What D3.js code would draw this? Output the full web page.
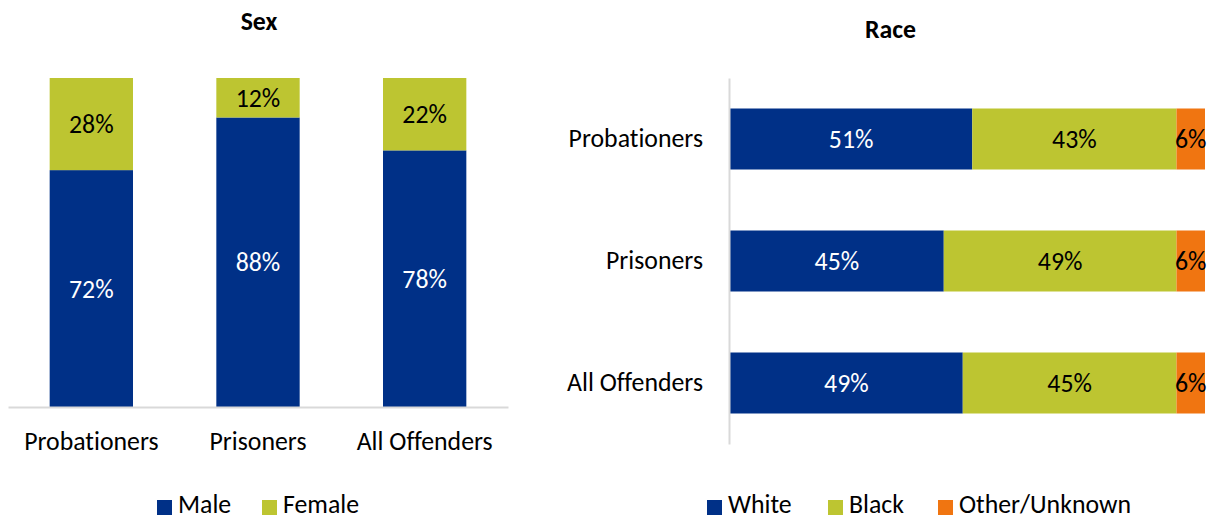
<!DOCTYPE html>
<html><head><meta charset="utf-8">
<script src="https://cdn.jsdelivr.net/npm/d3@7"></script>
<style>body{margin:0;background:#fff}svg{display:block}text{font-family:Carlito,Lato,"Open Sans",sans-serif;font-variant-ligatures:none}</style>
</head><body><svg id="c" width="1213" height="519"></svg>
<script>
const groups = ["Probationers","Prisoners","All Offenders"];
const sexSeries = ["Male","Female"];
const male = [72,88,78];
const female = [28,12,22];
const raceSeries = ["White","Black","Other/Unknown"];
const white = [51,45,49];
const black = [43,49,45];
const other = [6,6,6];

const FS = 25.8;
const colors = {Male:"#003087",Female:"#BDC531",White:"#003087",Black:"#BDC531","Other/Unknown":"#F07511"};
const labelColor = {Male:"#fff",White:"#fff",Female:"#000",Black:"#000","Other/Unknown":"#000"};
const svg = d3.select("#c");

// ---------- Sex chart ----------
const sexRows = groups.map((g,i)=>({group:g,Male:male[i],Female:female[i]}));
const sexStack = d3.stack().keys(sexSeries)(sexRows);
const x1 = d3.scaleBand().domain(groups).range([8,508]).paddingInner(0.5).paddingOuter(0.25);
const y1 = d3.scaleLinear().domain([0,100]).range([407,78]);
svg.append("text").attr("x",259).attr("y",29.5).attr("text-anchor","middle")
  .attr("font-weight","bold").attr("font-size",FS).text("Sex");
const g1 = svg.append("g");
sexStack.forEach(s=>{
  g1.selectAll(null).data(s).enter().append("rect")
    .attr("x",d=>x1(d.data.group)).attr("width",x1.bandwidth())
    .attr("y",d=>y1(d[1])).attr("height",d=>y1(d[0])-y1(d[1]))
    .attr("fill",colors[s.key]);
  g1.selectAll(null).data(s).enter().append("text")
    .attr("x",d=>x1(d.data.group)+x1.bandwidth()/2).attr("y",d=>(y1(d[0])+y1(d[1]))/2)
    .attr("dy","0.35em").attr("text-anchor","middle").attr("font-size",FS)
    .attr("fill",labelColor[s.key]).text(d=>(d[1]-d[0])+"%");
});
const ax1 = svg.append("g").attr("transform","translate(0,407)")
  .call(d3.axisBottom(x1).tickSize(0).tickPadding(25));
ax1.select(".domain").attr("stroke","#d9d9d9").attr("stroke-width",2);
ax1.selectAll("text").attr("font-size",FS).attr("fill","#000").style("font-family","Carlito,Lato,sans-serif");

// ---------- Race chart ----------
const raceRows = groups.map((g,i)=>({group:g,White:white[i],Black:black[i],"Other/Unknown":other[i]}));
const raceStack = d3.stack().keys(raceSeries)(raceRows);
const y2 = d3.scaleBand().domain(groups).range([78,444]).paddingInner(0.5).paddingOuter(0.25);
const x2 = d3.scaleLinear().domain([0,100]).range([730,1205]);
svg.append("text").attr("x",890.5).attr("y",37.5).attr("text-anchor","middle")
  .attr("font-weight","bold").attr("font-size",FS).text("Race");
const g2 = svg.append("g");
raceStack.forEach(s=>{
  g2.selectAll(null).data(s).enter().append("rect")
    .attr("y",d=>y2(d.data.group)).attr("height",y2.bandwidth())
    .attr("x",d=>x2(d[0])).attr("width",d=>x2(d[1])-x2(d[0]))
    .attr("fill",colors[s.key]);
  g2.selectAll(null).data(s).enter().append("text")
    .attr("y",d=>y2(d.data.group)+y2.bandwidth()/2).attr("x",d=>(x2(d[0])+x2(d[1]))/2)
    .attr("dy","0.35em").attr("text-anchor","middle").attr("font-size",FS)
    .attr("fill",labelColor[s.key]).text(d=>(d[1]-d[0])+"%");
});
const ax2 = svg.append("g").attr("transform","translate(729,0)")
  .call(d3.axisLeft(y2).tickSize(0).tickPadding(26));
ax2.select(".domain").attr("stroke","#d9d9d9").attr("stroke-width",2);
ax2.selectAll("text").attr("font-size",FS).attr("fill","#000").style("font-family","Carlito,Lato,sans-serif");

// ---------- Legends ----------
function legend(items, xs, baseline){
  const lg = svg.append("g");
  items.forEach((k,i)=>{
    lg.append("rect").attr("x",xs[i]).attr("y",500).attr("width",15).attr("height",15).attr("fill",colors[k]);
    lg.append("text").attr("x",xs[i]+21).attr("y",baseline).attr("font-size",FS).attr("fill","#000").text(k);
  });
}
legend(sexSeries,[157,262],512.5);
legend(raceSeries,[707,828,938],512.5);
</script></body></html>
